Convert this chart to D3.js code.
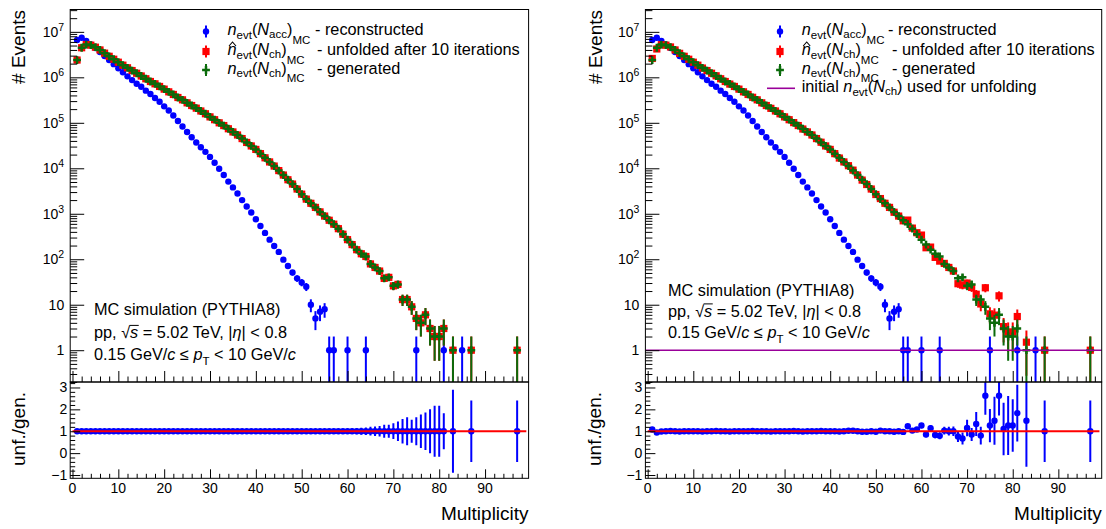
<!DOCTYPE html>
<html>
<head>
<meta charset="utf-8">
<script src="https://cdn.jsdelivr.net/npm/d3@7"></script>
<style>
  body { margin: 0; background: #fff; }
  text { font-family: "Liberation Sans", Arial, Helvetica, sans-serif; fill: #000; }
</style>
</head>
<body>
<svg id="chart" width="1106" height="529"></svg>
<script>
// ---- values ----
// multiplicity bins that have generated / unfolded entries
const multGen = [
  1, 2, 3, 4, 5, 6, 7, 8, 9, 10, 11, 12, 13, 14, 15, 16, 17, 18, 19, 20,
  21, 22, 23, 24, 25, 26, 27, 28, 29, 30, 31, 32, 33, 34, 35, 36, 37, 38, 39, 40,
  41, 42, 43, 44, 45, 46, 47, 48, 49, 50, 51, 52, 53, 54, 55, 56, 57, 58, 59, 60,
  61, 62, 63, 64, 65, 66, 67, 68, 69, 70, 71, 72, 73, 74, 75, 76, 77, 78, 79, 80,
  81, 83, 87, 97
];
// n_evt(N_ch)_MC generated
const generated = [
  2.4e6, 4.47e6, 5.25e6, 5.1e6, 4.6e6, 4.0e6, 3.4e6, 2.9e6, 2.5e6, 2.15e6,
  1.85e6, 1.62e6, 1.41e6, 1.23e6, 1.07e6, 9.3e5, 8.1e5, 7.2e5, 6.3e5, 5.5e5,
  4.8e5, 4.2e5, 3.6e5, 3.2e5, 2.75e5, 2.4e5, 2.1e5, 1.82e5, 1.58e5, 1.35e5,
  1.17e5, 1.0e5, 8.7e4, 7.4e4, 6.3e4, 5.4e4, 4.5e4, 3.7e4, 3.1e4, 2.6e4,
  2.1e4, 1.7e4, 1.38e4, 1.12e4, 8900, 7100, 5600, 4500, 3500, 2700,
  2100, 1700, 1380, 1100, 890, 720, 590, 470, 355, 270,
  210, 162, 132, 115, 79, 66, 55, 38, 40, 26,
  28, 13, 13, 9, 5, 4, 6, 3, 2, 2,
  3, 1, 1, 1
];
// unfolded after 10 iterations, left (closure: identical to generated)
const unfoldedLeft = [
  2.4e6, 4.47e6, 5.25e6, 5.1e6, 4.6e6, 4.0e6, 3.4e6, 2.9e6, 2.5e6, 2.15e6,
  1.85e6, 1.62e6, 1.41e6, 1.23e6, 1.07e6, 9.3e5, 8.1e5, 7.2e5, 6.3e5, 5.5e5,
  4.8e5, 4.2e5, 3.6e5, 3.2e5, 2.75e5, 2.4e5, 2.1e5, 1.82e5, 1.58e5, 1.35e5,
  1.17e5, 1.0e5, 8.7e4, 7.4e4, 6.3e4, 5.4e4, 4.5e4, 3.7e4, 3.1e4, 2.6e4,
  2.1e4, 1.7e4, 1.38e4, 1.12e4, 8900, 7100, 5600, 4500, 3500, 2700,
  2100, 1700, 1380, 1100, 890, 720, 590, 470, 355, 270,
  210, 162, 132, 115, 79, 66, 55, 38, 40, 26,
  28, 13, 13, 9, 5, 4, 6, 3, 2, 2,
  3, 1, 1, 1
];
// unfolded after 10 iterations, right
const unfoldedRight = [
  2.6e6, 4.2e6, 5.2e6, 5.1e6, 4.65e6, 4.0e6, 3.37e6, 2.9e6, 2.5e6, 2.15e6,
  1.85e6, 1.6e6, 1.41e6, 1.23e6, 1.08e6, 9.3e5, 8.1e5, 7.1e5, 6.3e5, 5.5e5,
  4.8e5, 4.2e5, 3.64e5, 3.2e5, 2.75e5, 2.4e5, 2.08e5, 1.82e5, 1.58e5, 1.35e5,
  1.17e5, 1.01e5, 8.7e4, 7.3e4, 6.3e4, 5.4e4, 4.5e4, 3.74e4, 3.1e4, 2.6e4,
  2.1e4, 1.68e4, 1.38e4, 1.14e4, 9100, 7100, 5500, 4400, 3500, 2650,
  2160, 1700, 1380, 1080, 890, 700, 726, 484, 383, 340,
  179, 185, 110, 91, 81, 66, 55, 29, 27, 30,
  24, 17, 10.4, 23.6, 6.3, 5.9, 15.7, 3.3, 2.5, 2.5,
  5.5, 1.5, 1, 1
];
// n_evt(N_acc)_MC reconstructed
const multRec = [
  1, 2, 3, 4, 5, 6, 7, 8, 9, 10, 11, 12, 13, 14, 15, 16, 17, 18, 19, 20,
  21, 22, 23, 24, 25, 26, 27, 28, 29, 30, 31, 32, 33, 34, 35, 36, 37, 38, 39, 40,
  41, 42, 43, 44, 45, 46, 47, 48, 49, 50, 51, 52, 53, 54, 55, 56, 57, 60, 64, 75,
  81, 85
];
const reconstructed = [
  6.6e6, 7.4e6, 6.3e6, 5.25e6, 4.4e6, 3.6e6, 2.95e6, 2.4e6, 1.95e6, 1.58e6,
  1.29e6, 1.05e6, 8.7e5, 7.2e5, 6.2e5, 5.1e5, 4.3e5, 3.5e5, 2.9e5, 2.3e5,
  1.86e5, 1.45e5, 1.1e5, 8.3e4, 6.3e4, 4.8e4, 3.7e4, 2.9e4, 2.3e4, 1.78e4,
  1.32e4, 9800, 7100, 5100, 3800, 2800, 2000, 1450, 1070, 760,
  540, 380, 270, 195, 145, 98, 71, 51, 38, 31,
  25, 10, 5, 7, 8, 1, 1, 1, 1, 1,
  1, 1
];
// ratio unfolded / generated
const ratioLeft = [
  1, 1, 1, 1, 1, 1, 1, 1, 1, 1, 1, 1, 1, 1, 1, 1, 1, 1, 1, 1,
  1, 1, 1, 1, 1, 1, 1, 1, 1, 1, 1, 1, 1, 1, 1, 1, 1, 1, 1, 1,
  1, 1, 1, 1, 1, 1, 1, 1, 1, 1, 1, 1, 1, 1, 1, 1, 1, 1, 1, 1,
  1, 1, 1, 1, 1, 1, 1, 1, 1, 1, 1, 1, 1, 1, 1, 1, 1, 1, 1, 1,
  1, 1, 1, 1
];
const ratioLeftErr = [
  0.01, 0.01, 0.01, 0.01, 0.01, 0.01, 0.01, 0.01, 0.01, 0.01,
  0.01, 0.01, 0.01, 0.01, 0.01, 0.01, 0.01, 0.01, 0.01, 0.01,
  0.01, 0.01, 0.01, 0.01, 0.01, 0.01, 0.01, 0.01, 0.01, 0.01,
  0.01, 0.01, 0.01, 0.01, 0.01, 0.01, 0.01, 0.01, 0.01, 0.01,
  0.02, 0.02, 0.02, 0.02, 0.03, 0.03, 0.03, 0.03, 0.04, 0.04,
  0.04, 0.05, 0.05, 0.06, 0.06, 0.07, 0.08, 0.09, 0.1, 0.11,
  0.12, 0.14, 0.16, 0.17, 0.2, 0.22, 0.24, 0.3, 0.3, 0.36,
  0.45, 0.56, 0.64, 0.52, 0.64, 0.76, 0.86, 1.0, 1.17, 1.17,
  0.82, 1.9, 1.41, 1.41
];
const ratioRight = [
  1.08, 0.94, 0.99, 1.0, 1.01, 1.0, 0.99, 1.0, 1.0, 1.0,
  1.0, 0.99, 1.0, 1.0, 1.01, 1.0, 1.0, 0.99, 1.0, 1.0,
  1.0, 1.0, 1.01, 1.0, 1.0, 1.0, 0.99, 1.0, 1.0, 1.0,
  1.0, 1.01, 1.0, 0.99, 1.0, 1.0, 1.0, 1.01, 1.0, 1.0,
  1.0, 0.99, 1.0, 1.02, 1.02, 1.0, 0.98, 0.98, 1.0, 0.98,
  1.03, 1.0, 1.0, 0.98, 1.0, 0.97, 1.23, 1.03, 1.08, 1.26,
  0.85, 1.14, 0.83, 0.79, 1.03, 1.0, 1.0, 0.76, 0.67, 1.15,
  0.85, 1.33, 0.8, 2.62, 1.26, 1.48, 2.62, 1.1, 1.26, 1.26,
  1.83, 1.48, 1.0, 1.0
];
const ratioRightErr = [
  0.01, 0.01, 0.01, 0.01, 0.01, 0.01, 0.01, 0.01, 0.01, 0.01,
  0.01, 0.01, 0.01, 0.01, 0.01, 0.01, 0.01, 0.01, 0.01, 0.01,
  0.01, 0.01, 0.01, 0.01, 0.01, 0.01, 0.01, 0.01, 0.01, 0.01,
  0.01, 0.01, 0.01, 0.01, 0.01, 0.01, 0.01, 0.01, 0.01, 0.01,
  0.02, 0.02, 0.02, 0.02, 0.02, 0.03, 0.03, 0.03, 0.03, 0.03,
  0.04, 0.04, 0.05, 0.05, 0.06, 0.07, 0.08, 0.09, 0.1, 0.12,
  0.12, 0.14, 0.15, 0.16, 0.18, 0.2, 0.22, 0.25, 0.27, 0.38,
  0.3, 0.55, 0.4, 0.87, 0.76, 1.1, 0.9, 1.2, 1.35, 1.2,
  1.3, 2.1, 1.4, 1.4
];
// axis ticks
const logMajor = [1, 10, 100, 1e3, 1e4, 1e5, 1e6, 1e7];
const logExp = [0, 1, 2, 3, 4, 5, 6, 7];
const xTickValues = [0, 10, 20, 30, 40, 50, 60, 70, 80, 90];
const ratioTickValues = [-1, 0, 1, 2, 3];
const ratioTickLabels = ['\u22121', '0', '1', '2', '3'];

// ---- drawing ----
const svg = d3.select('#chart');
svg.append('rect').attr('width', 1106).attr('height', 529).attr('fill', '#fff');
const defs = svg.append('defs');

const topY0 = 9.5, topY1 = 382, botY1 = 478.3;
const blue = '#0000ff', red = '#ff0000', green = '#0b6b0b', magenta = '#990099';
const fs = 16.3, subFs = 11.5;

const panels = [
  { x0: 70.2, x1: 528.6, unfolded: unfoldedLeft, ratio: ratioLeft, ratioErr: ratioLeftErr, prior: false,
    titleX: 25, legX: 206, legTextX: 227.5, legDashX: [315, 317, 317], infoX: 94, infoY: [315, 338, 360] },
  { x0: 645.4, x1: 1101.7, unfolded: unfoldedRight, ratio: ratioRight, ratioErr: ratioRightErr, prior: true,
    titleX: 601.5, legX: 780, legTextX: 801.7, legDashX: [888, 892, 892], infoX: 668, infoY: [296, 316.5, 338] }
];

const crossPath = (a, t) => `M${-a},${-t}H${-t}V${-a}H${t}V${-t}H${a}V${t}H${t}V${a}H${-t}V${t}H${-a}Z`;

function drawMarker(g, shape, cx, cy, color) {
  if (shape === 'circle') {
    g.append('circle').attr('cx', cx).attr('cy', cy).attr('r', 3.2).attr('fill', color);
  } else if (shape === 'square') {
    g.append('rect').attr('x', cx - 3.6).attr('y', cy - 3.6).attr('width', 7.2).attr('height', 7.2).attr('fill', color);
  } else {
    g.append('path').attr('d', crossPath(3.9, 1.25)).attr('transform', `translate(${cx},${cy})`).attr('fill', color);
  }
}

function drawPoints(g, sx, sy, ms, vs, errs, color, shape, floor) {
  const data = ms.map((m, i) => ({ m, v: vs[i], e: errs[i] }));
  g.selectAll(null).data(data).enter().append('line')
    .attr('x1', d => sx(d.m)).attr('x2', d => sx(d.m))
    .attr('y1', d => sy(Math.max(d.v - d.e, floor)))
    .attr('y2', d => sy(d.v + d.e))
    .attr('stroke', color).attr('stroke-width', 2);
  data.forEach(d => drawMarker(g, shape, sx(d.m), sy(d.v), color));
}

function rich(g, x, y, parts, size) {
  const t = g.append('text').attr('x', x).attr('y', y).attr('font-size', size);
  let shift = 0;
  parts.forEach(p => {
    const off = p.dy || 0;
    const ts = t.append('tspan').attr('dy', off - shift).text(p.t);
    shift = off;
    if (p.it) ts.attr('font-style', 'italic');
    if (p.fs) ts.attr('font-size', p.fs);
  });
  return t;
}

function tickAxis(g, axis, tr, values, len) {
  g.append('g').attr('transform', tr)
    .call(axis.tickValues(values).tickSize(len).tickFormat(''))
    .call(s => s.select('.domain').remove())
    .selectAll('line').attr('stroke', '#000').attr('stroke-width', 1);
}

const logMinor = [];
for (let e = -1; e <= 7; e++) {
  for (let d = 2; d <= 9; d++) {
    const v = d * Math.pow(10, e);
    if (v >= 0.2 && v <= 3.1e7) logMinor.push(v);
  }
}
const xMinor = d3.range(0, 100, 2).filter(v => v % 10 !== 0);
const ratioMinor = d3.range(-10, 33, 2).map(v => v / 10).filter(v => v % 1 !== 0 && v >= -1.15 && v <= 3.25);

panels.forEach((p, idx) => {
  const x = d3.scaleLinear().domain([-0.5, 99.5]).range([p.x0, p.x1]);
  const y = d3.scaleLog().domain([0.2, 3.1e7]).range([topY1, topY0]);
  const yr = d3.scaleLinear().domain([-1.15, 3.25]).range([botY1, topY1]);
  const g = svg.append('g');

  defs.append('clipPath').attr('id', 'ct' + idx).append('rect')
    .attr('x', p.x0).attr('y', topY0).attr('width', p.x1 - p.x0).attr('height', topY1 - topY0);
  defs.append('clipPath').attr('id', 'cr' + idx).append('rect')
    .attr('x', p.x0).attr('y', topY1).attr('width', p.x1 - p.x0).attr('height', botY1 - topY1);

  // top pad: distributions
  const top = g.append('g').attr('clip-path', `url(#ct${idx})`);
  drawPoints(top, x, y, multRec, reconstructed, reconstructed.map(Math.sqrt), blue, 'circle', 0.01);
  drawPoints(top, x, y, multGen, p.unfolded, p.unfolded.map(Math.sqrt), red, 'square', 0.01);
  drawPoints(top, x, y, multGen, generated, generated.map(Math.sqrt), green, 'cross', 0.01);
  if (p.prior) {
    top.append('line').attr('x1', p.x0).attr('x2', p.x1).attr('y1', y(1)).attr('y2', y(1))
      .attr('stroke', magenta).attr('stroke-width', 1.6);
  }

  // bottom pad: ratio
  const bot = g.append('g').attr('clip-path', `url(#cr${idx})`);
  drawPoints(bot, x, yr, multGen, p.ratio, p.ratioErr, blue, 'circle', -10);
  bot.append('line').attr('x1', x(0)).attr('x2', x(99)).attr('y1', yr(1)).attr('y2', yr(1))
    .attr('stroke', red).attr('stroke-width', 2);

  // ticks
  tickAxis(g, d3.axisRight(y), `translate(${p.x0},0)`, logMajor, 14);
  tickAxis(g, d3.axisRight(y), `translate(${p.x0},0)`, logMinor, 7);
  tickAxis(g, d3.axisTop(x), `translate(0,${topY1})`, xTickValues, 11);
  tickAxis(g, d3.axisTop(x), `translate(0,${topY1})`, xMinor, 5.5);
  tickAxis(g, d3.axisTop(x), `translate(0,${botY1})`, xTickValues, 9);
  tickAxis(g, d3.axisTop(x), `translate(0,${botY1})`, xMinor, 4.5);
  tickAxis(g, d3.axisRight(yr), `translate(${p.x0},0)`, ratioTickValues, 10);
  tickAxis(g, d3.axisRight(yr), `translate(${p.x0},0)`, ratioMinor, 5);

  // frames
  g.append('rect').attr('x', p.x0).attr('y', topY0).attr('width', p.x1 - p.x0).attr('height', topY1 - topY0)
    .attr('fill', 'none').attr('stroke', '#000').attr('stroke-width', 1);
  g.append('rect').attr('x', p.x0).attr('y', topY1).attr('width', p.x1 - p.x0).attr('height', botY1 - topY1)
    .attr('fill', 'none').attr('stroke', '#000').attr('stroke-width', 1);

  // tick labels
  logMajor.forEach((v, i) => {
    const t = g.append('text').attr('x', p.x0 - 6).attr('y', y(v) + 5).attr('text-anchor', 'end').attr('font-size', 14);
    if (logExp[i] === 0) t.text('1');
    else if (logExp[i] === 1) t.text('10');
    else {
      t.append('tspan').text('10');
      t.append('tspan').attr('dy', -6).attr('font-size', 10.5).text(logExp[i]);
    }
  });
  xTickValues.forEach(v => {
    g.append('text').attr('x', x(v)).attr('y', 493).attr('text-anchor', 'middle').attr('font-size', 14).text(v);
  });
  ratioTickValues.forEach((v, i) => {
    g.append('text').attr('x', p.x0 - 3).attr('y', yr(v) + 5).attr('text-anchor', 'end').attr('font-size', 14)
      .text(ratioTickLabels[i]);
  });

  // axis titles
  g.append('text').attr('transform', `translate(${p.titleX},10) rotate(-90)`).attr('text-anchor', 'end')
    .attr('font-size', 19).text('# Events');
  g.append('text').attr('transform', `translate(${p.titleX - 0.5},429) rotate(-90)`).attr('text-anchor', 'middle')
    .attr('font-size', 19).text('unf./gen.');
  g.append('text').attr('x', p.x1).attr('y', 520).attr('text-anchor', 'end').attr('font-size', 19).text('Multiplicity');

  // legend
  const rows = [35, 55, 73.5, 92];
  const shapes = [['circle', blue], ['square', red], ['cross', green]];
  shapes.forEach((s, i) => {
    const my = rows[i] - 3.5;
    g.append('line').attr('x1', p.legX).attr('x2', p.legX).attr('y1', my - 6).attr('y2', my + 6)
      .attr('stroke', s[1]).attr('stroke-width', 2);
    drawMarker(g, s[0], p.legX, my, s[1]);
  });
  const sub = ['acc', 'ch', 'ch'];
  const dash = ['- reconstructed', '- unfolded after 10 iterations', '- generated'];
  sub.forEach((sb, i) => {
    rich(g, p.legTextX, rows[i], [
      { t: 'n', it: true }, { t: 'evt', dy: 3.5, fs: subFs }, { t: '(' }, { t: 'N', it: true },
      { t: sb, dy: 3, fs: subFs }, { t: ')' }, { t: 'MC', dy: 8.5, fs: subFs }
    ], fs);
    g.append('text').attr('x', p.legDashX[i]).attr('y', rows[i]).attr('font-size', fs).text(dash[i]);
  });
  // hat over the unfolded n
  const hx = p.legTextX + 1.5, hy = rows[1] - 9;
  g.append('path').attr('d', `M${hx},${hy}L${hx + 3.5},${hy - 4}L${hx + 7},${hy}`)
    .attr('fill', 'none').attr('stroke', '#000').attr('stroke-width', 1.1);
  if (p.prior) {
    g.append('line').attr('x1', 767).attr('x2', 795).attr('y1', rows[3] - 3.7).attr('y2', rows[3] - 3.7)
      .attr('stroke', magenta).attr('stroke-width', 1.6);
    rich(g, p.legTextX, rows[3], [
      { t: 'initial ' }, { t: 'n', it: true }, { t: 'evt', dy: 3.5, fs: subFs }, { t: '(' },
      { t: 'N', it: true }, { t: 'ch', dy: 3, fs: subFs }, { t: ') used for unfolding' }
    ], fs);
  }

  // info text
  g.append('text').attr('x', p.infoX).attr('y', p.infoY[0]).attr('font-size', fs).text('MC simulation (PYTHIA8)');
  const l2 = rich(g, p.infoX, p.infoY[1], [
    { t: 'pp, \u221A' }, { t: 's', it: true }, { t: ' = 5.02 TeV, |' }, { t: '\u03B7', it: true }, { t: '| < 0.8' }
  ], fs);
  const ext = l2.node().getExtentOfChar(5);
  g.append('line').attr('x1', ext.x - 0.5).attr('x2', ext.x + ext.width + 0.5)
    .attr('y1', p.infoY[1] - 12.6).attr('y2', p.infoY[1] - 12.6).attr('stroke', '#000').attr('stroke-width', 1);
  rich(g, p.infoX, p.infoY[2], [
    { t: '0.15 GeV/' }, { t: 'c', it: true }, { t: ' \u2264 ' }, { t: 'p', it: true },
    { t: 'T', dy: 5, fs: subFs }, { t: ' < 10 GeV/' }, { t: 'c', it: true }
  ], fs);
});
</script>
</body>
</html>
